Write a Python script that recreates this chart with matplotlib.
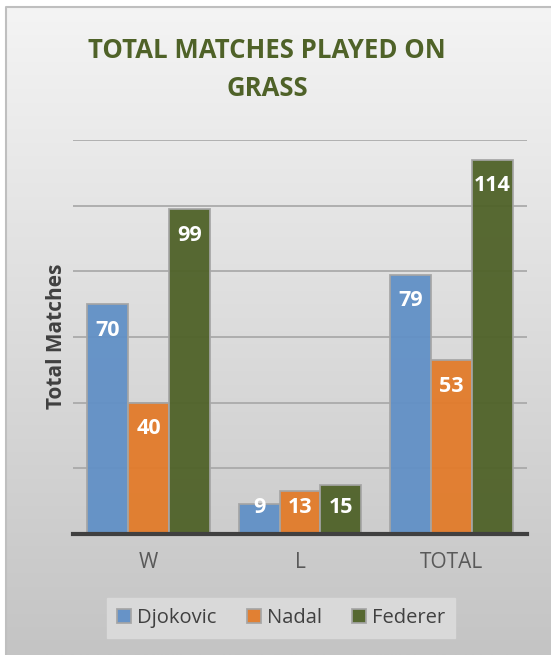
import matplotlib.pyplot as plt
import numpy as np

categories = ["W", "L", "TOTAL"]
players = ["Djokovic", "Nadal", "Federer"]
djokovic = [70, 9, 79]
nadal = [40, 13, 53]
federer = [99, 15, 114]

farben = {"Djokovic": "#6190c6", "Nadal": "#e27b2a", "Federer": "#4f6228"}

plt.rcParams['font.family'] = ['Open Sans', 'DejaVu Sans']

fig = plt.figure(figsize=(5.51, 6.55), dpi=100)
fig.patch.set_facecolor("white")

# background panel with grey gradient
bg = fig.add_axes([6/551, 0, 1 - 6/551, 1 - 7/655])
grad = np.linspace(0, 1, 256).reshape(-1, 1)
bg.imshow(grad, aspect="auto", cmap=plt.matplotlib.colors.LinearSegmentedColormap.from_list("g", ["#f4f4f4", "#c4c4c4"]),
          extent=[0, 1, 0, 1], origin="upper")
bg.set_xlim(0, 1)
bg.set_ylim(0, 1)
bg.axis("off")
fig.add_artist(plt.Line2D([6/551, 6/551, 1], [0, 1 - 7/655, 1 - 7/655], transform=fig.transFigure,
                          color="#bfbfbf", lw=1.5))

ax = fig.add_axes([73/551, 121/655, 454/551, 394/655])
ax.patch.set_alpha(0)

x = np.arange(len(categories))
w = 0.27
series = [djokovic, nadal, federer]
for i, (name, vals) in enumerate(zip(players, series)):
    pos = x + (i - 1) * w
    ax.bar(pos, vals, w, color=farben[name], edgecolor="#a5a5a5", linewidth=1.3,
           label=name, zorder=3, alpha=0.95)
    for px, v in zip(pos, vals):
        ax.text(px, max(v - 8, 8), str(v), ha="center", va="center", color="white",
                fontsize=15.5, fontweight="bold", zorder=4)

ax.set_xlim(-0.5, 2.5)
ax.set_ylim(0, 120)
ax.set_yticks(range(0, 121, 20))
ax.yaxis.grid(True, color="#a6a6a6", lw=1.2, zorder=0)
ax.set_yticklabels([])
ax.tick_params(axis="y", length=0)
ax.tick_params(axis="x", length=0, pad=13, labelsize=15, labelcolor="#595959")
ax.set_xticks(x)
ax.set_xticklabels(categories)
for s in ["top", "right", "left"]:
    ax.spines[s].set_visible(False)
ax.spines["bottom"].set_color("#404040")
ax.spines["bottom"].set_linewidth(3)
ax.spines["bottom"].set_zorder(5)

fig.text(57/551, 1 - 336/655, "Total Matches", rotation=90, ha="center", va="center",
         fontsize=15, fontweight="bold", color="#404040")

fig.text(267/551, 1 - 50/655, "TOTAL MATCHES PLAYED ON", ha="center", va="center",
         fontsize=18.5, fontweight="bold", color="#4f6228")
fig.text(267/551, 1 - 88/655, "GRASS", ha="center", va="center",
         fontsize=18.5, fontweight="bold", color="#4f6228")

leg = fig.legend(loc="center", bbox_to_anchor=(281/551, 1 - 618/655), ncol=3, frameon=True,
                 fontsize=14.5, handlelength=0.7, handleheight=0.7, handletextpad=0.3,
                 columnspacing=1.5, borderpad=0.5, fancybox=False)
leg.get_frame().set_facecolor("#d9d9d9")
leg.get_frame().set_edgecolor("#d9d9d9")
leg.get_frame().set_alpha(1)
for t in leg.get_texts():
    t.set_color("#404040")

plt.savefig("out.png", dpi=100)
